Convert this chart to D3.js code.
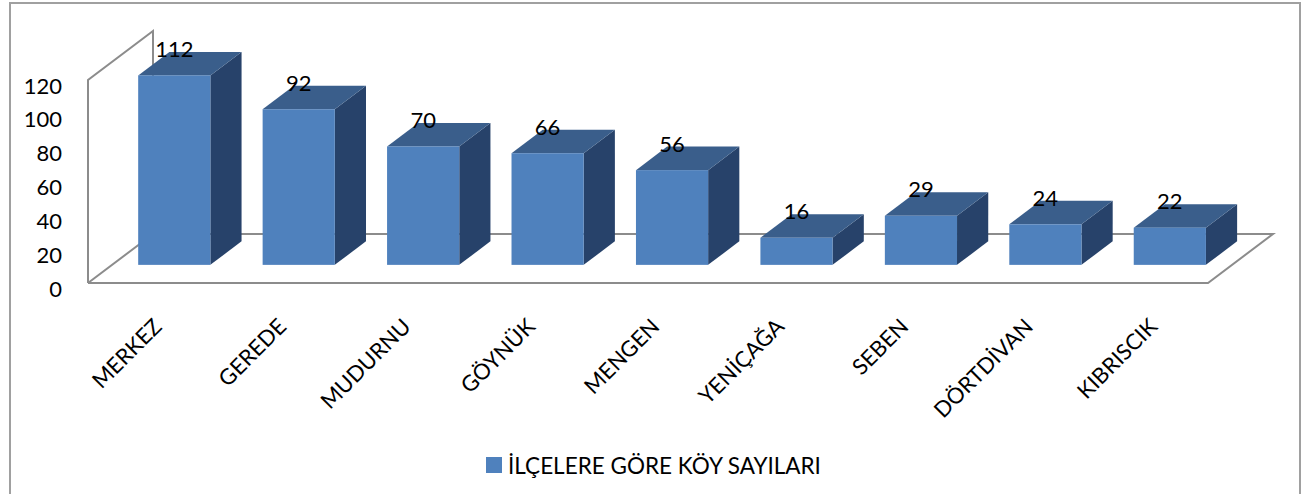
<html lang="tr">
<head>
<meta charset="utf-8">
<script src="https://cdnjs.cloudflare.com/ajax/libs/d3/7.8.5/d3.min.js"></script>
<style>
html, body {
  margin: 0;
  padding: 0;
  background: #fff;
  font-family: 'Lato', sans-serif;
}
</style>
</head>
<body>
  <svg id="chart" width="1311" height="494"></svg>
</body>
<script>
// data
const districts = ['MERKEZ', 'GEREDE', 'MUDURNU', 'GÖYNÜK', 'MENGEN', 'YENİÇAĞA', 'SEBEN', 'DÖRTDİVAN', 'KIBRISCIK'];
const villageCounts = [112, 92, 70, 66, 56, 16, 29, 24, 22];
const yTicks = [0, 20, 40, 60, 80, 100, 120];
const seriesName = 'İLÇELERE GÖRE KÖY SAYILARI';

const svg = d3.select('#chart');

// outer frame
svg.append('rect')
  .attr('x', 10).attr('y', 3)
  .attr('width', 1290).attr('height', 500)
  .attr('fill', 'none')
  .attr('stroke', '#a0a0a0')
  .attr('stroke-width', 2);

// 3d setup: front plane of the floor and the depth vector
const depth = { x: 65, y: -49 };
const barFront = 0.37, barBack = 0.85;

const x = d3.scaleBand()
  .domain(districts)
  .range([88, 1208])
  .paddingInner(0.42)
  .paddingOuter(0.21);

const y = d3.scaleLinear()
  .domain([0, 120])
  .range([283, 80]);

const wallColor = '#8c8c8c';
const pt = (px, py, f) => [px + depth.x * f, py + depth.y * f];

// back wall / side wall / floor outlines
const frame = svg.append('g')
  .attr('fill', 'none')
  .attr('stroke', wallColor)
  .attr('stroke-width', 2);

const x0 = x.range()[0], x1 = x.range()[1];
const line = d3.line();
frame.append('path').attr('d', line([
  [x0, y(0)], [x0, y(120)], pt(x0, y(120), 1), pt(x0, y(0), 1), [x0, y(0)]
]));
frame.append('path').attr('d', line([
  [x0, y(0)], [x1, y(0)], pt(x1, y(0), 1), pt(x0, y(0), 1)
]));

// y axis labels
svg.append('g')
  .selectAll('text')
  .data(yTicks)
  .join('text')
  .attr('x', 62)
  .attr('y', d => y(d) + 5)
  .attr('text-anchor', 'end')
  .attr('dominant-baseline', 'central')
  .attr('font-size', 22)
  .attr('fill', '#000')
  .text(d => d);

// bars
const bars = svg.append('g')
  .selectAll('g')
  .data(districts.map((d, i) => ({ name: d, value: villageCounts[i] })))
  .join('g');

const bw = x.bandwidth();
const dd = barBack - barFront;

bars.each(function(d) {
  const g = d3.select(this);
  const [fx, fy0] = pt(x(d.name), y(0), barFront);
  const fy1 = fy0 - (y(0) - y(d.value));
  const ox = depth.x * dd, oy = depth.y * dd;

  // side
  g.append('path')
    .attr('fill', '#27426A')
    .attr('d', line([[fx + bw, fy1], [fx + bw + ox, fy1 + oy], [fx + bw + ox, fy0 + oy], [fx + bw, fy0]]) + 'Z');
  // top
  g.append('path')
    .attr('fill', '#3A5E8B')
    .attr('d', line([[fx, fy1], [fx + ox, fy1 + oy], [fx + bw + ox, fy1 + oy], [fx + bw, fy1]]) + 'Z');
  // front
  g.append('rect')
    .attr('x', fx).attr('y', fy1)
    .attr('width', bw).attr('height', fy0 - fy1)
    .attr('fill', '#4F81BD');
  // value label
  g.append('text')
    .attr('x', fx + bw / 2)
    .attr('y', fy1 - 27)
    .attr('text-anchor', 'middle')
    .attr('dominant-baseline', 'central')
    .attr('font-size', 22)
    .attr('fill', '#000')
    .text(d.value);
});

// category labels
svg.append('g')
  .selectAll('text')
  .data(districts)
  .join('text')
  .attr('transform', d => `translate(${x(d) + bw / 2 + 13}, 328) rotate(-45)`)
  .attr('text-anchor', 'end')
  .attr('font-size', 22)
  .attr('fill', '#000')
  .text(d => d);

// legend
const legend = svg.append('g').attr('transform', 'translate(486, 457)');
legend.append('rect')
  .attr('width', 16).attr('height', 16)
  .attr('fill', '#4F81BD');
legend.append('text')
  .attr('x', 22).attr('y', 8)
  .attr('dominant-baseline', 'central')
  .attr('font-size', 22.5)
  .attr('fill', '#000')
  .text(seriesName);
</script>
</html>
